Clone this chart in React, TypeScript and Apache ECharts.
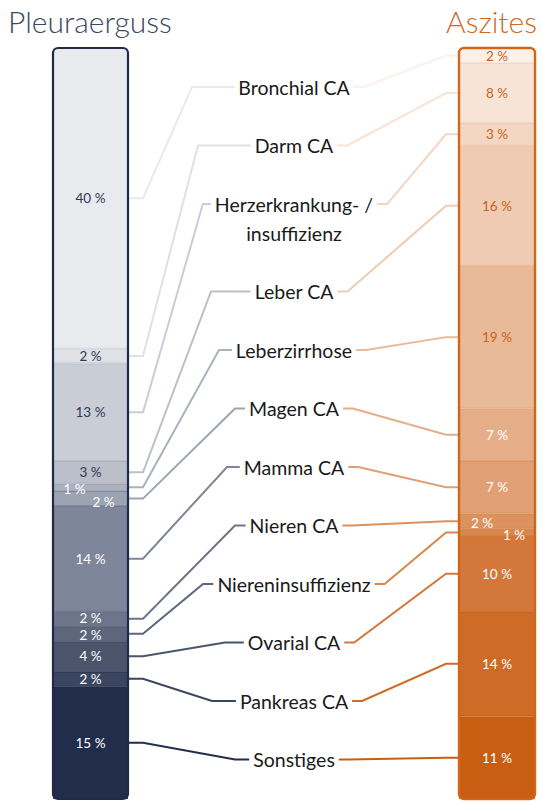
import React, { useEffect, useRef } from "react";
import * as echarts from "echarts";

const categories = [
  "Bronchial CA",
  "Darm CA",
  "Herzerkrankung- /\ninsuffizienz",
  "Leber CA",
  "Leberzirrhose",
  "Magen CA",
  "Mamma CA",
  "Nieren CA",
  "Niereninsuffizienz",
  "Ovarial CA",
  "Pankreas CA",
  "Sonstiges",
];
const pleuraValues = [40, 2, 13, 3, 1, 2, 14, 2, 2, 4, 2, 15];
const aszitesValues = [2, 8, 3, 16, 19, 7, 7, 2, 1, 10, 14, 11];
const titles = ["Pleuraerguss", "Aszites"];

const pleuraColors = [
  "#e9eaee", "#dfe1e6", "#c9cdd6", "#babfca", "#abb1be", "#9ca3b2",
  "#7d869a", "#6c7589", "#5d677c", "#4b556c", "#3a4560", "#212d4b",
];
const aszitesColors = [
  "#fcf1ea", "#f8e4d7", "#f3d6c3", "#efcbb3", "#e9ba98", "#e5ae88",
  "#e1a074", "#dc925f", "#d8874e", "#d3773a", "#ce6b27", "#c85e12",
];
const pleuraTextColors = pleuraValues.map((_, i) => (i < 4 ? "#2e3a56" : "#ffffff"));
const aszitesTextColors = aszitesValues.map((_, i) => (i < 5 ? "#c8641a" : "#ffffff"));

// layout constants
const FONT = "Lato, 'Source Sans Pro', sans-serif";
const TOP = 48;
const H = 751;
const LBAR = { x: 53, w: 75 };
const RBAR = { x: 459, w: 76 };
const LABEL_CX = 294;
const LABEL_Y0 = 87;
const LABEL_STEP = 58.5;
const LABEL_EXTRA = 29;
const LABEL_SIZE = 19.5;
const leftElbowX = [192, 198, 205, 211, 219, 235, 227, 235, 203, 225, 212, 235];
const pleuraLabelOffsets: Record<number, number[]> = {
  4: [-16, 2],
  5: [13, 3],
  7: [0, -1],
  8: [0, 1],
};
const aszitesLabelOffsets: Record<number, number[]> = { 7: [-15, 2], 8: [17, 3] };

export default function App() {
  const ref = useRef<HTMLDivElement>(null);
  useEffect(() => {
    document.body.style.margin = "0";
    const chart = echarts.init(ref.current!, null, { renderer: "svg" });

    const makeSeries = (
      vals: number[],
      colors: string[],
      textColors: string[],
      offsets: Record<number, number[]>,
      idx: number
    ) =>
      vals.map((v, i) => ({
        type: "bar",
        name: categories[i],
        xAxisIndex: idx,
        yAxisIndex: idx,
        stack: "s" + idx,
        barWidth: "100%",
        data: [v],
        itemStyle: {
          color: colors[i],
          borderColor: colors[Math.min(i + 1, colors.length - 1)],
          borderWidth: 1,
        },
        label: {
          show: true,
          position: "inside",
          formatter: "{c} %",
          color: textColors[i],
          fontFamily: FONT,
          fontSize: 13.5,
          lineHeight: 12,
          offset: offsets[i] || [0, 0],
        },
      }));

    chart.setOption({
      animation: false,
      title: [
        {
          text: titles[0],
          left: 3,
          top: 1,
          textStyle: { fontFamily: FONT, fontSize: 30, fontWeight: 300, color: "#3c4761" },
        },
        {
          text: titles[1],
          right: 0,
          top: 1,
          textStyle: { fontFamily: FONT, fontSize: 30, fontWeight: 300, color: "#d2691e" },
        },
      ],
      grid: [
        { left: LBAR.x, top: TOP, width: LBAR.w, height: H },
        { left: RBAR.x, top: TOP, width: RBAR.w, height: H },
      ],
      xAxis: [
        { type: "category", gridIndex: 0, data: [titles[0]], show: false },
        { type: "category", gridIndex: 1, data: [titles[1]], show: false },
      ],
      yAxis: [
        { type: "value", gridIndex: 0, min: 0, max: 100, inverse: true, show: false },
        { type: "value", gridIndex: 1, min: 0, max: 100, inverse: true, show: false },
      ],
      series: [
        ...makeSeries(pleuraValues, pleuraColors, pleuraTextColors, pleuraLabelOffsets, 0),
        ...makeSeries(aszitesValues, aszitesColors, aszitesTextColors, aszitesLabelOffsets, 1),
      ],
    });

    const canvas = document.createElement("canvas");
    const ctx = canvas.getContext("2d")!;
    ctx.font = `${LABEL_SIZE}px ${FONT}`;

    const mids = (vals: number[], axis: number) => {
      let cum = 0;
      return vals.map((v) => {
        const m = cum + v / 2;
        cum += v;
        return chart.convertToPixel({ yAxisIndex: axis }, m) as number;
      });
    };
    const lMid = mids(pleuraValues, 0);
    const rMid = mids(aszitesValues, 1);

    const graphics: any[] = [];
    categories.forEach((c, i) => {
      const y = LABEL_Y0 + LABEL_STEP * i + (i >= 3 ? LABEL_EXTRA : 0);
      const first = c.split("\n")[0];
      const w = ctx.measureText(first).width;
      const lEdge = LABEL_CX - w / 2;
      const rEdge = LABEL_CX + w / 2;
      const lEnd = lEdge - 4;
      const lElbow = Math.min(leftElbowX[i], lEnd - 8);
      graphics.push({
        type: "polyline",
        shape: {
          points: [
            [LBAR.x + LBAR.w + 1, lMid[i]],
            [LBAR.x + LBAR.w + 15, lMid[i]],
            [lElbow, y],
            [lEnd, y],
          ],
        },
        style: { stroke: pleuraColors[i], lineWidth: 2, fill: "none" },
        z: 10,
      });
      graphics.push({
        type: "polyline",
        shape: {
          points: [
            [rEdge + 4, y],
            [rEdge + 14, y],
            [RBAR.x - 13, rMid[i]],
            [RBAR.x - 1, rMid[i]],
          ],
        },
        style: { stroke: aszitesColors[i], lineWidth: 2, fill: "none" },
        z: 10,
      });
      graphics.push({
        type: "text",
        x: LABEL_CX,
        y: y - 14.5,
        style: {
          text: c,
          align: "center",
          verticalAlign: "top",
          lineHeight: 29,
          fontSize: LABEL_SIZE,
          fontFamily: FONT,
          fill: "#1a1a1a",
        },
        z: 10,
      });
    });

    graphics.push({
      type: "rect",
      shape: { x: LBAR.x, y: TOP, width: LBAR.w, height: H, r: 5 },
      style: { fill: "none", stroke: "#1f2b48", lineWidth: 2.2 },
      z: 20,
    });
    graphics.push({
      type: "rect",
      shape: { x: RBAR.x, y: TOP, width: RBAR.w, height: H, r: 5 },
      style: { fill: "none", stroke: "#d0661a", lineWidth: 2.4 },
      z: 20,
    });

    chart.setOption({ graphic: graphics });

    return () => chart.dispose();
  }, []);
  return <div ref={ref} style={{ width: 542, height: 802 }} />;
}
